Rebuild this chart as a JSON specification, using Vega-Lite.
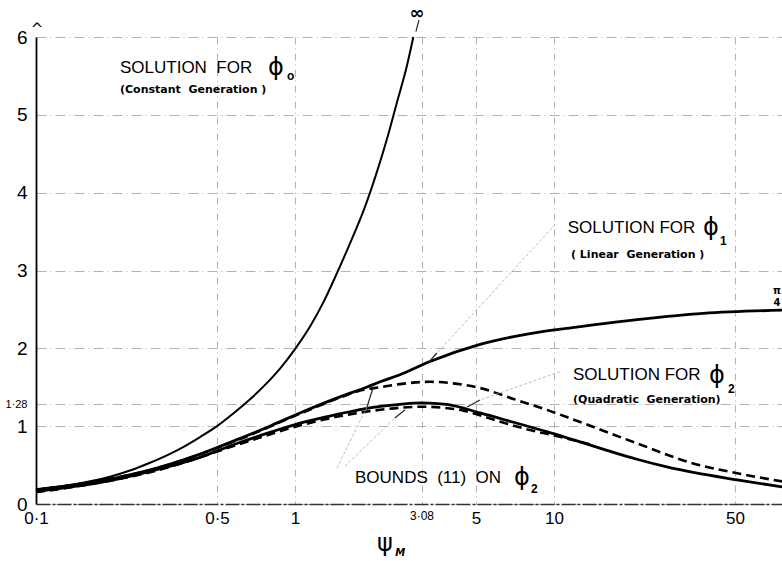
{
  "$schema": "https://vega.github.io/schema/vega-lite/v6.json",
  "autosize": "none",
  "width": 746,
  "height": 467,
  "padding": {"left": 36, "top": 37, "right": 0, "bottom": 57},
  "background": "white",
  "config": {"view": {"stroke": null}, "font": "Liberation Sans"},
  "datasets": {
    "curves": [
      {"series": "phi0", "psi": 0.1, "value": 0.19},
      {"series": "phi0", "psi": 0.15, "value": 0.27},
      {"series": "phi0", "psi": 0.193, "value": 0.35},
      {"series": "phi0", "psi": 0.2306, "value": 0.43},
      {"series": "phi0", "psi": 0.2755, "value": 0.53},
      {"series": "phi0", "psi": 0.3292, "value": 0.645},
      {"series": "phi0", "psi": 0.3761, "value": 0.745},
      {"series": "phi0", "psi": 0.4297, "value": 0.86},
      {"series": "phi0", "psi": 0.5, "value": 1.0},
      {"series": "phi0", "psi": 0.5763, "value": 1.16},
      {"series": "phi0", "psi": 0.6706, "value": 1.345},
      {"series": "phi0", "psi": 0.7661, "value": 1.53},
      {"series": "phi0", "psi": 0.8751, "value": 1.74},
      {"series": "phi0", "psi": 1.0, "value": 1.99},
      {"series": "phi0", "psi": 1.1428, "value": 2.28},
      {"series": "phi0", "psi": 1.2863, "value": 2.59},
      {"series": "phi0", "psi": 1.4271, "value": 2.91},
      {"series": "phi0", "psi": 1.5834, "value": 3.25},
      {"series": "phi0", "psi": 1.7048, "value": 3.5},
      {"series": "phi0", "psi": 1.8349, "value": 3.76},
      {"series": "phi0", "psi": 1.9486, "value": 4.0},
      {"series": "phi0", "psi": 2.0683, "value": 4.26},
      {"series": "phi0", "psi": 2.2603, "value": 4.68},
      {"series": "phi0", "psi": 2.4703, "value": 5.15},
      {"series": "phi0", "psi": 2.7, "value": 5.62},
      {"series": "phi0", "psi": 2.8632, "value": 6.0},

      {"series": "phi1", "psi": 0.1, "value": 0.18},
      {"series": "phi1", "psi": 0.2, "value": 0.33},
      {"series": "phi1", "psi": 0.3, "value": 0.47},
      {"series": "phi1", "psi": 0.43, "value": 0.64},
      {"series": "phi1", "psi": 0.6, "value": 0.83},
      {"series": "phi1", "psi": 0.8, "value": 1.0},
      {"series": "phi1", "psi": 1.045, "value": 1.17},
      {"series": "phi1", "psi": 1.5, "value": 1.38},
      {"series": "phi1", "psi": 1.89, "value": 1.5},
      {"series": "phi1", "psi": 2.13, "value": 1.57},
      {"series": "phi1", "psi": 2.54, "value": 1.66},
      {"series": "phi1", "psi": 3.32, "value": 1.83},
      {"series": "phi1", "psi": 5.18, "value": 2.05},
      {"series": "phi1", "psi": 8.08, "value": 2.19},
      {"series": "phi1", "psi": 12.0, "value": 2.27},
      {"series": "phi1", "psi": 20.9, "value": 2.37},
      {"series": "phi1", "psi": 37.7, "value": 2.45},
      {"series": "phi1", "psi": 76.0, "value": 2.49},

      {"series": "phi2", "psi": 0.1, "value": 0.16},
      {"series": "phi2", "psi": 0.2, "value": 0.31},
      {"series": "phi2", "psi": 0.3, "value": 0.45},
      {"series": "phi2", "psi": 0.43, "value": 0.6},
      {"series": "phi2", "psi": 0.6, "value": 0.78},
      {"series": "phi2", "psi": 0.8, "value": 0.92},
      {"series": "phi2", "psi": 1.045, "value": 1.04},
      {"series": "phi2", "psi": 1.5, "value": 1.16},
      {"series": "phi2", "psi": 1.89, "value": 1.23},
      {"series": "phi2", "psi": 2.54, "value": 1.28},
      {"series": "phi2", "psi": 3.08, "value": 1.3},
      {"series": "phi2", "psi": 3.85, "value": 1.28},
      {"series": "phi2", "psi": 5.18, "value": 1.17},
      {"series": "phi2", "psi": 6.97, "value": 1.05},
      {"series": "phi2", "psi": 9.37, "value": 0.93},
      {"series": "phi2", "psi": 12.0, "value": 0.82},
      {"series": "phi2", "psi": 16.0, "value": 0.69},
      {"series": "phi2", "psi": 20.9, "value": 0.575},
      {"series": "phi2", "psi": 27.0, "value": 0.48},
      {"series": "phi2", "psi": 34.5, "value": 0.405},
      {"series": "phi2", "psi": 50.9, "value": 0.31},
      {"series": "phi2", "psi": 76.0, "value": 0.22},

      {"series": "upper", "psi": 0.1, "value": 0.18},
      {"series": "upper", "psi": 0.3, "value": 0.47},
      {"series": "upper", "psi": 0.6, "value": 0.82},
      {"series": "upper", "psi": 1.045, "value": 1.16},
      {"series": "upper", "psi": 1.5, "value": 1.37},
      {"series": "upper", "psi": 1.8, "value": 1.46},
      {"series": "upper", "psi": 2.13, "value": 1.5},
      {"series": "upper", "psi": 2.54, "value": 1.54},
      {"series": "upper", "psi": 3.32, "value": 1.57},
      {"series": "upper", "psi": 4.08, "value": 1.55},
      {"series": "upper", "psi": 5.18, "value": 1.49},
      {"series": "upper", "psi": 6.97, "value": 1.35},
      {"series": "upper", "psi": 9.37, "value": 1.21},
      {"series": "upper", "psi": 12.0, "value": 1.08},
      {"series": "upper", "psi": 20.9, "value": 0.78},
      {"series": "upper", "psi": 34.5, "value": 0.52},
      {"series": "upper", "psi": 50.9, "value": 0.395},
      {"series": "upper", "psi": 76.0, "value": 0.29},

      {"series": "lower", "psi": 0.1, "value": 0.15},
      {"series": "lower", "psi": 0.3, "value": 0.44},
      {"series": "lower", "psi": 0.6, "value": 0.76},
      {"series": "lower", "psi": 1.045, "value": 1.01},
      {"series": "lower", "psi": 1.5, "value": 1.13},
      {"series": "lower", "psi": 2.13, "value": 1.21},
      {"series": "lower", "psi": 3.1, "value": 1.25},
      {"series": "lower", "psi": 4.47, "value": 1.2},
      {"series": "lower", "psi": 6.01, "value": 1.07},
      {"series": "lower", "psi": 8.08, "value": 0.95},
      {"series": "lower", "psi": 10.0, "value": 0.88},
      {"series": "lower", "psi": 12.6, "value": 0.8},
      {"series": "lower", "psi": 14.0, "value": 0.76}
    ],
    "bigText": [
      {"psi": 0.211, "value": 5.54, "text": "SOLUTION\u00a0\u00a0FOR"},
      {"psi": 11.3, "value": 3.48, "text": "SOLUTION FOR"},
      {"psi": 11.84, "value": 1.594, "text": "SOLUTION FOR"},
      {"psi": 1.705, "value": 0.27, "text": "BOUNDS\u00a0\u00a0(11)\u00a0\u00a0ON"}
    ],
    "phiText": [
      {"psi": 0.787, "value": 5.51, "text": "ϕ"},
      {"psi": 37.6, "value": 3.46, "text": "ϕ"},
      {"psi": 39.7, "value": 1.555, "text": "ϕ"},
      {"psi": 7.01, "value": 0.244, "text": "ϕ"}
    ],
    "subText": [
      {"psi": 0.931, "value": 5.45, "text": "o"},
      {"psi": 43.7, "value": 3.33, "text": "1"},
      {"psi": 46.97, "value": 1.43, "text": "2"},
      {"psi": 8.15, "value": 0.14, "text": "2"}
    ],
    "smallText": [
      {"psi": 0.211, "value": 5.28, "text": "(Constant\u00a0\u00a0Generation )"},
      {"psi": 11.63, "value": 3.16, "text": "( Linear\u00a0\u00a0Generation )"},
      {"psi": 11.84, "value": 1.3, "text": "(Quadratic\u00a0\u00a0Generation)"}
    ],
    "leaders": [
      {"psi": 10.1, "value": 3.59, "psi2": 3.53, "value2": 1.94},
      {"psi": 10.55, "value": 1.7, "psi2": 5.18, "value2": 1.337},
      {"psi": 1.453, "value": 0.463, "psi2": 1.897, "value2": 1.247},
      {"psi": 1.56, "value": 0.488, "psi2": 2.43, "value2": 1.105}
    ],
    "arrows": [
      {"psi": 3.53, "value": 1.94, "psi2": 3.26, "value2": 1.81},
      {"psi": 5.18, "value": 1.337, "psi2": 4.62, "value2": 1.247},
      {"psi": 2.0, "value": 1.49, "psi2": 1.897, "value2": 1.247},
      {"psi": 2.43, "value": 1.105, "psi2": 2.66, "value2": 1.21},
      {"psi": 3.01, "value": 6.22, "psi2": 2.93, "value2": 6.07}
    ]
  },
  "layer": [
    {
      "data": {"name": "curves"},
      "transform": [{"filter": "datum.series == 'phi0'"}],
      "mark": {"type": "line", "color": "black", "strokeWidth": 2, "interpolate": "monotone"},
      "encoding": {
        "x": {
          "field": "psi", "type": "quantitative",
          "scale": {"type": "log", "domain": [0.1, 75.9], "nice": false},
          "axis": {
            "values": [0.1, 0.5, 1, 3.08, 5, 10, 50],
            "title": null,
            "ticks": false,
            "labelExpr": "datum.value == 0.1 ? '0·1' : datum.value == 0.5 ? '0·5' : datum.value == 3.08 ? '3·08' : datum.label",
            "labelFontSize": {"condition": {"test": "datum.value == 3.08", "value": 12}, "value": 17},
            "labelColor": "black",
            "labelPadding": 6,
            "labelFlush": false,
            "labelOverlap": false,
            "domainColor": "#333",
            "domainWidth": 1.5,
            "domainDash": [14, 2, 3, 2],
            "grid": true,
            "gridColor": "#aaa",
            "gridWidth": 0.9,
            "gridDash": [7, 4, 1, 4]
          }
        },
        "y": {
          "field": "value", "type": "quantitative",
          "scale": {"domain": [0, 6], "nice": false},
          "axis": {
            "values": [0, 1, 1.28, 2, 3, 4, 5, 6],
            "title": null,
            "ticks": false,
            "labelExpr": "datum.value == 1.28 ? '1·28' : format(datum.value, 'd')",
            "labelFontSize": {"condition": {"test": "datum.value == 1.28", "value": 11}, "value": 19},
            "labelColor": "black",
            "labelPadding": 9,
            "labelOverlap": false,
            "labelFlush": false,
            "domainColor": "black",
            "domainWidth": 1.8,
            "grid": true,
            "gridColor": "#aaa",
            "gridWidth": 0.9,
            "gridDash": [10, 4, 1, 4]
          }
        }
      }
    },
    {
      "data": {"name": "curves"},
      "transform": [{"filter": "datum.series == 'phi1' || datum.series == 'phi2'"}],
      "mark": {"type": "line", "color": "black", "strokeWidth": 2.8, "interpolate": "monotone"},
      "encoding": {
        "x": {"field": "psi", "type": "quantitative"},
        "y": {"field": "value", "type": "quantitative"},
        "detail": {"field": "series"}
      }
    },
    {
      "data": {"name": "curves"},
      "transform": [{"filter": "datum.series == 'upper' || datum.series == 'lower'"}],
      "mark": {"type": "line", "color": "black", "strokeWidth": 2.6, "strokeDash": [9, 5], "interpolate": "monotone"},
      "encoding": {
        "x": {"field": "psi", "type": "quantitative"},
        "y": {"field": "value", "type": "quantitative"},
        "detail": {"field": "series"}
      }
    },
    {
      "data": {"name": "leaders"},
      "mark": {"type": "rule", "color": "#aaa", "strokeWidth": 0.8, "strokeDash": [3, 2]},
      "encoding": {
        "x": {"field": "psi", "type": "quantitative"},
        "y": {"field": "value", "type": "quantitative"},
        "x2": {"field": "psi2"},
        "y2": {"field": "value2"}
      }
    },
    {
      "data": {"name": "arrows"},
      "mark": {"type": "rule", "color": "#222", "strokeWidth": 1.2},
      "encoding": {
        "x": {"field": "psi", "type": "quantitative"},
        "y": {"field": "value", "type": "quantitative"},
        "x2": {"field": "psi2"},
        "y2": {"field": "value2"}
      }
    },
    {
      "data": {"name": "bigText"},
      "mark": {"type": "text", "align": "left", "baseline": "alphabetic", "fontSize": 17, "font": "Liberation Sans", "color": "black"},
      "encoding": {
        "x": {"field": "psi", "type": "quantitative"},
        "y": {"field": "value", "type": "quantitative"},
        "text": {"field": "text"}
      }
    },
    {
      "data": {"name": "phiText"},
      "mark": {"type": "text", "align": "left", "baseline": "alphabetic", "fontSize": 24, "font": "DejaVu Sans", "color": "black"},
      "encoding": {
        "x": {"field": "psi", "type": "quantitative"},
        "y": {"field": "value", "type": "quantitative"},
        "text": {"field": "text"}
      }
    },
    {
      "data": {"name": "subText"},
      "mark": {"type": "text", "align": "left", "baseline": "alphabetic", "fontSize": 12, "fontWeight": "bold", "font": "Liberation Sans", "color": "black"},
      "encoding": {
        "x": {"field": "psi", "type": "quantitative"},
        "y": {"field": "value", "type": "quantitative"},
        "text": {"field": "text"}
      }
    },
    {
      "data": {"name": "smallText"},
      "mark": {"type": "text", "align": "left", "baseline": "alphabetic", "fontSize": 11, "fontWeight": "bold", "font": "DejaVu Sans", "color": "black"},
      "encoding": {
        "x": {"field": "psi", "type": "quantitative"},
        "y": {"field": "value", "type": "quantitative"},
        "text": {"field": "text"}
      }
    },
    {
      "data": {"values": [{"psi": 2.96, "value": 6.3, "text": "∞"}]},
      "mark": {"type": "text", "align": "center", "baseline": "middle", "fontSize": 18, "fontWeight": "bold", "font": "DejaVu Sans", "color": "black"},
      "encoding": {
        "x": {"field": "psi", "type": "quantitative"},
        "y": {"field": "value", "type": "quantitative"},
        "text": {"field": "text"}
      }
    },
    {
      "data": {"values": [{"psi": 0.101, "value": 6.1, "text": "^"}]},
      "mark": {"type": "text", "align": "center", "baseline": "middle", "fontSize": 15, "font": "DejaVu Sans", "color": "black"},
      "encoding": {
        "x": {"field": "psi", "type": "quantitative"},
        "y": {"field": "value", "type": "quantitative"},
        "text": {"field": "text"}
      }
    },
    {
      "data": {"values": [{"psi": 72.6, "value": 2.7, "text": "π"}, {"psi": 72.6, "value": 2.55, "text": "4"}]},
      "mark": {"type": "text", "align": "center", "baseline": "alphabetic", "fontSize": 10, "fontWeight": "bold", "font": "DejaVu Sans", "color": "black"},
      "encoding": {
        "x": {"field": "psi", "type": "quantitative"},
        "y": {"field": "value", "type": "quantitative"},
        "text": {"field": "text"}
      }
    },
    {
      "data": {"values": [{"psi": 2.226, "value": -0.52, "text": "ψ"}]},
      "mark": {"type": "text", "align": "center", "baseline": "middle", "fontSize": 24, "font": "DejaVu Sans", "color": "black"},
      "encoding": {
        "x": {"field": "psi", "type": "quantitative"},
        "y": {"field": "value", "type": "quantitative"},
        "text": {"field": "text"}
      }
    },
    {
      "data": {"values": [{"psi": 2.55, "value": -0.63, "text": "M"}]},
      "mark": {"type": "text", "align": "center", "baseline": "middle", "fontSize": 10, "fontWeight": "bold", "fontStyle": "italic", "font": "DejaVu Sans", "color": "black"},
      "encoding": {
        "x": {"field": "psi", "type": "quantitative"},
        "y": {"field": "value", "type": "quantitative"},
        "text": {"field": "text"}
      }
    }
  ]
}
